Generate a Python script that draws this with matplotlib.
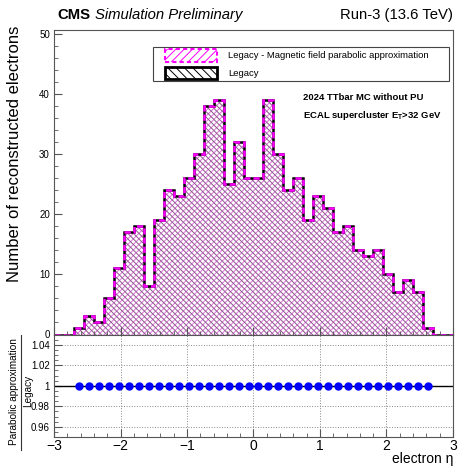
import numpy as np
import matplotlib
matplotlib.use("Agg")
import matplotlib.pyplot as plt
from matplotlib.patches import Rectangle
from matplotlib.lines import Line2D
from matplotlib.ticker import MultipleLocator, FuncFormatter

plt.rcParams['font.family'] = ['Liberation Sans', 'DejaVu Sans']
plt.rcParams['mathtext.fontset'] = 'custom'
plt.rcParams['mathtext.rm'] = 'Liberation Sans'
plt.rcParams['mathtext.bf'] = 'Liberation Sans:bold'
plt.rcParams['hatch.linewidth'] = 0.7

# 40 bins in eta from -3 to 3
eta_lo, eta_hi, n_bins = -3.0, 3.0, 40
legacy = [0, 0, 1, 3, 2, 6, 11, 17, 18, 8,
          19, 24, 23, 26, 30, 38, 39, 25, 32, 26,
          26, 39, 30, 24, 26, 19, 23, 21, 17, 18,
          14, 13, 14, 10, 7, 9, 7, 1, 0, 0]
parabolic = [0, 0, 1, 3, 2, 6, 11, 17, 18, 8,
             19, 24, 23, 26, 30, 38, 39, 25, 32, 26,
             26, 39, 30, 24, 26, 19, 23, 21, 17, 18,
             14, 13, 14, 10, 7, 9, 7, 1, 0, 0]

W, H = 460, 466


def fx(x):
    return x / W


def fy(y):
    return 1 - y / H


edges = np.linspace(eta_lo, eta_hi, n_bins + 1)
centers = 0.5 * (edges[1:] + edges[:-1])
leg = np.array(legacy, dtype=float)
par = np.array(parabolic, dtype=float)
mask = leg > 0
ratio = par[mask] / leg[mask]

fig = plt.figure(figsize=(W / 100, H / 100), dpi=100)
ax1 = fig.add_axes([fx(54), fy(334.5), fx(453) - fx(54), fy(30) - fy(334.5)])
ax2 = fig.add_axes([fx(54), fy(437), fx(453) - fx(54), fy(334.5) - fy(437)])

# histograms
ax1.stairs(par, edges, fill=True, facecolor='none', edgecolor='#e070e0', hatch='//////', linewidth=0)
ax1.stairs(leg, edges, fill=True, facecolor='none', edgecolor='#8a5a8a', hatch='\\\\\\\\\\\\', linewidth=0)
ax1.stairs(leg, edges, color='black', linewidth=1.8)
ax1.stairs(par, edges, color='magenta', linewidth=1.8, linestyle=(0, (2.5, 1.2)))

ax1.set_xlim(eta_lo, eta_hi)
ax1.set_ylim(0, 50.7)
ax1.xaxis.set_major_locator(MultipleLocator(1))
ax1.xaxis.set_minor_locator(MultipleLocator(0.2))
ax1.yaxis.set_major_locator(MultipleLocator(10))
ax1.yaxis.set_minor_locator(MultipleLocator(2))
ax1.tick_params(which='both', direction='in', top=False, right=False, labelbottom=False,
                labelsize=7, color='#555', pad=3)
ax1.tick_params(which='major', length=6)
ax1.tick_params(which='minor', length=3)
for s in ax1.spines.values():
    s.set_color('#555')
    s.set_linewidth(0.8)

# ratio pad
ax2.axhline(1, color='black', linewidth=1)
ax2.plot(centers[mask], ratio, 'o', color='#0000ff', markersize=5, zorder=3)
ax2.set_xlim(eta_lo, eta_hi)
ax2.set_ylim(0.95, 1.05)
ax2.xaxis.set_major_locator(MultipleLocator(1))
ax2.xaxis.set_minor_locator(MultipleLocator(0.2))
ax2.yaxis.set_major_locator(MultipleLocator(0.02))
ax2.yaxis.set_minor_locator(MultipleLocator(0.005))
ax2.yaxis.set_major_formatter(FuncFormatter(lambda v, p: '%g' % round(v, 2)))
ax2.grid(True, which='major', linestyle=':', color='#888', linewidth=0.7)
ax2.tick_params(which='both', direction='in', top=False, right=False, color='#555')
ax2.tick_params(axis='y', labelsize=7, pad=3)
ax2.tick_params(axis='x', labelsize=10, pad=1.5)
ax2.tick_params(which='major', length=6)
ax2.tick_params(which='minor', length=3)
for s in ax2.spines.values():
    s.set_color('#555')
    s.set_linewidth(0.8)

# titles and labels
fig.text(fx(57), fy(15), 'CMS', fontsize=10.7, fontweight='bold', va='center')
fig.text(fx(95), fy(15), 'Simulation Preliminary', fontsize=10.7, style='italic', va='center')
fig.text(fx(453), fy(15), 'Run-3 (13.6 TeV)', fontsize=10.7, ha='right', va='center')
fig.text(fx(15), fy(26), 'Number of reconstructed electrons', fontsize=12, rotation=90,
         ha='center', va='top')
fig.text(fx(453), fy(459), 'electron η', fontsize=10, ha='right', va='center')
fig.text(fx(14), fy(392), 'Parabolic approximation', fontsize=7.2, rotation=90, ha='center', va='center')
fig.add_artist(Line2D([fx(21), fx(21)], [fy(335), fy(450)], color='#333', linewidth=0.8))
fig.text(fx(28), fy(391), 'Legacy', fontsize=7.2, rotation=90, ha='center', va='center')

# legend
fig.add_artist(Rectangle((fx(153), fy(81)), fx(449) - fx(153), fy(47) - fy(81),
                         fill=False, edgecolor='#444', linewidth=0.8))
fig.add_artist(Rectangle((fx(165), fy(62)), fx(217) - fx(165), fy(49) - fy(62),
                         facecolor='white', edgecolor='magenta', hatch='////',
                         linewidth=1.5, linestyle=(0, (2, 1.5))))
fig.add_artist(Rectangle((fx(165), fy(79)), fx(217) - fx(165), fy(67) - fy(79),
                         facecolor='white', edgecolor='black', hatch='\\\\\\\\', linewidth=2))
fig.text(fx(228), fy(56), 'Legacy - Magnetic field parabolic approximation', fontsize=6.8, va='center')
fig.text(fx(228), fy(73), 'Legacy', fontsize=6.8, va='center')

fig.text(fx(303), fy(98), '2024 TTbar MC without PU', fontsize=6.8, fontweight='bold', va='center')
fig.text(fx(303), fy(115), r'ECAL supercluster E$_{\mathbf{T}}$>32 GeV', fontsize=6.8,
         fontweight='bold', va='center')

fig.savefig('out.png', dpi=100)
